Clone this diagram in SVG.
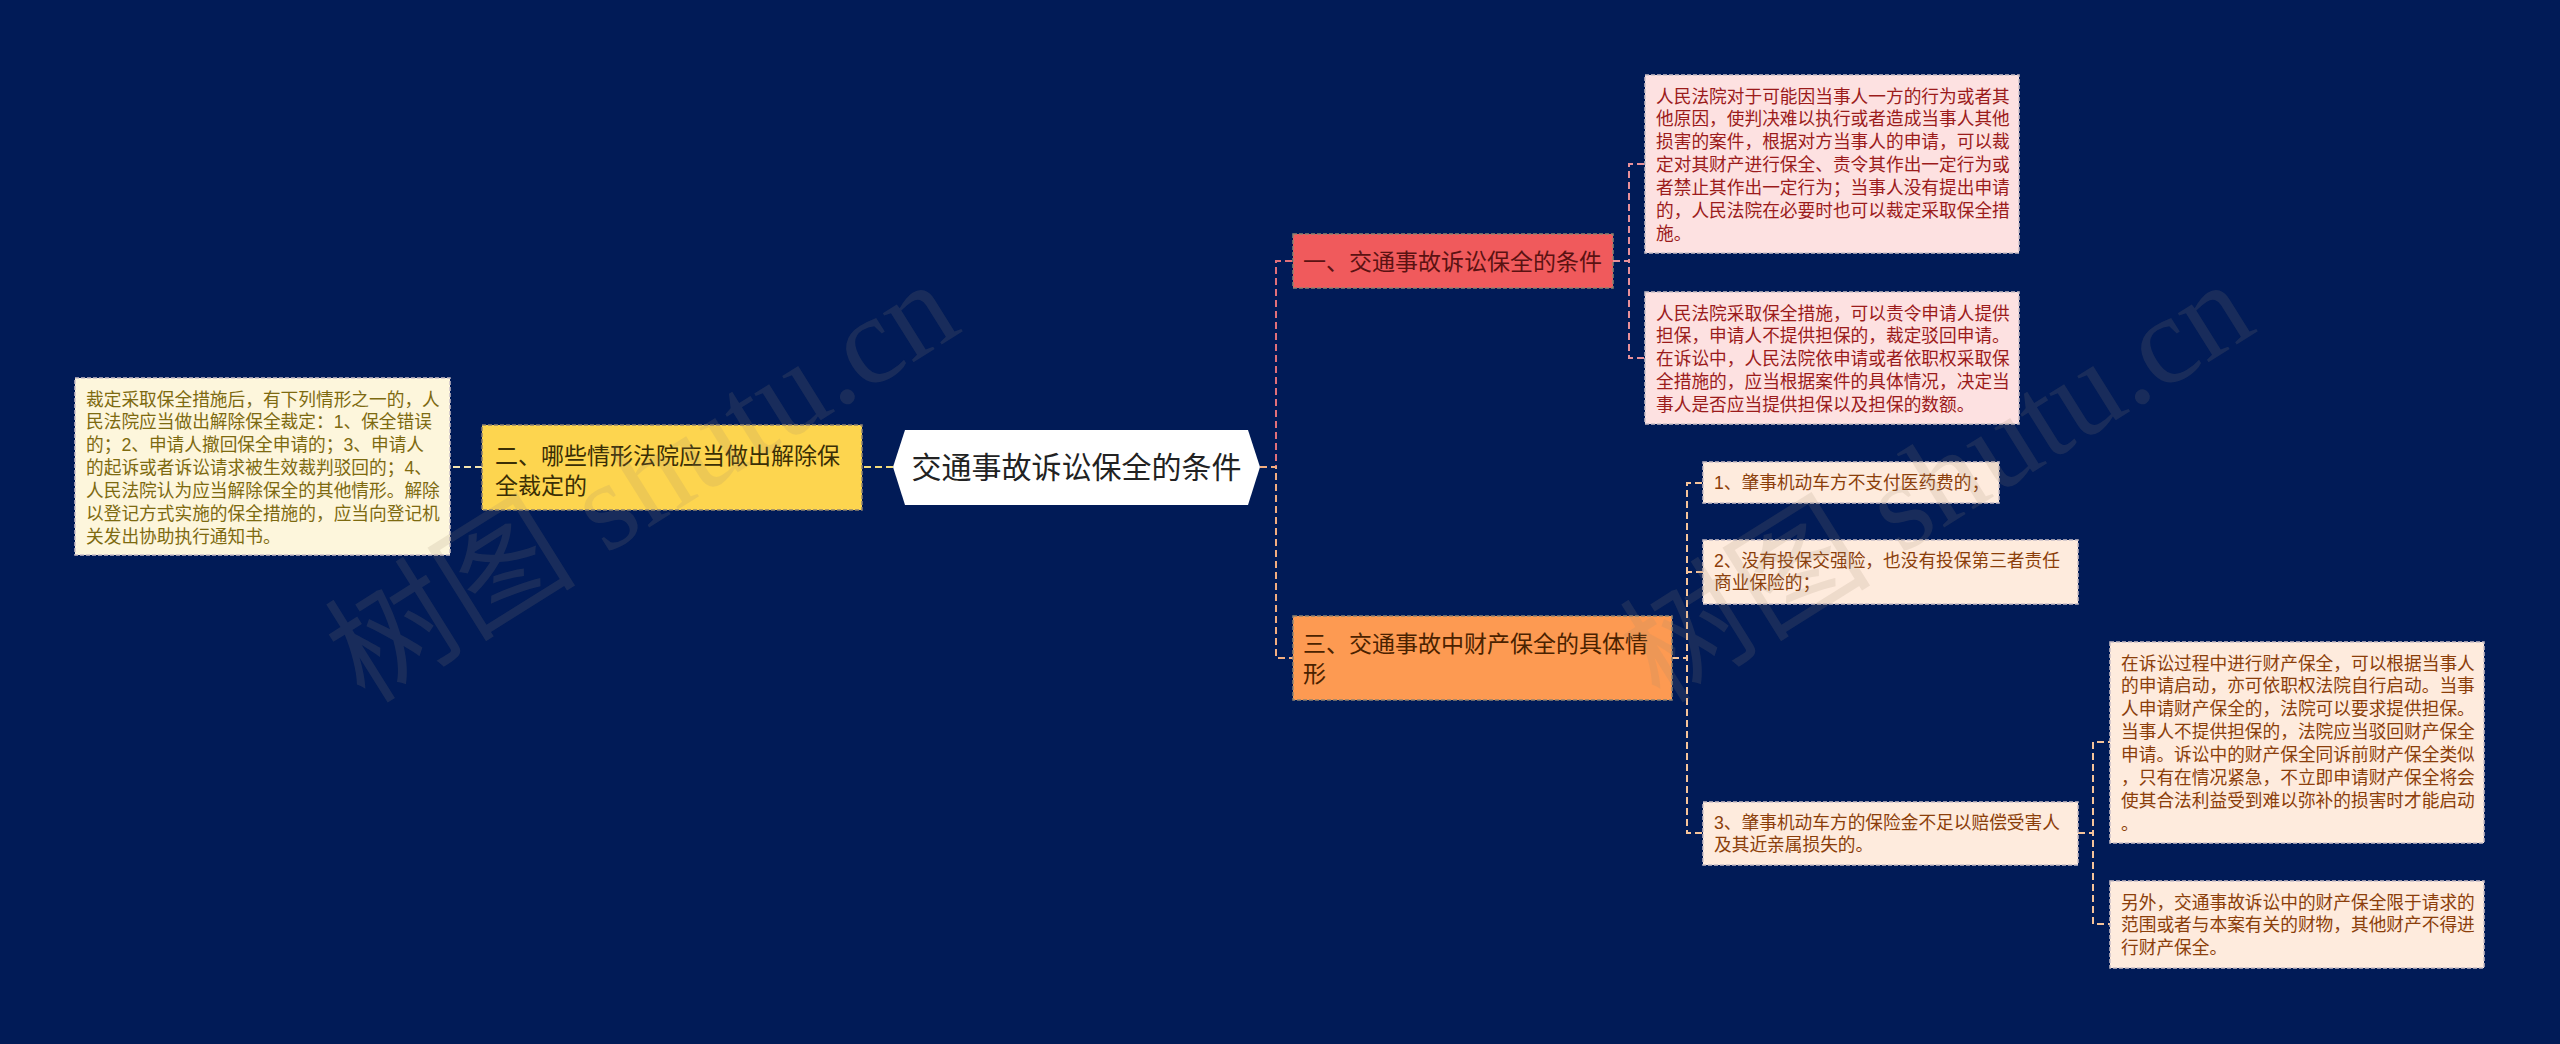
<svg xmlns="http://www.w3.org/2000/svg" width="2560" height="1044" viewBox="0 0 2560 1044">
<defs>
<style>
.t{font-family:"Liberation Sans","Noto Sans CJK SC",sans-serif}
.leaf{font-size:17.7px}
.main{font-size:23px}
.box{stroke:#c9bfc6;stroke-width:1.5;stroke-dasharray:4 2}
.mbox{stroke:#8f8270;stroke-width:1.5;stroke-dasharray:4 2}
.c{fill:none;stroke-width:2;stroke-dasharray:7 4}
.wm{font-family:"Liberation Serif","Noto Sans CJK SC",serif;font-size:126px;fill:#9a8a70;fill-opacity:0.16}
</style>
</defs>
<rect x="0" y="0" width="2560" height="1044" fill="#011b57"/>

<g id="connectors">
<path class="c" d="M1260,467 H1276 V261 H1293" stroke="#e0707a"/>
<path class="c" d="M1260,467 H1276 V658 H1293" stroke="#f2ad80"/>
<path class="c" d="M893,467 H862" stroke="#f3dc7a"/>
<path class="c" d="M482,467 H451" stroke="#f5e6b0"/>
<path class="c" d="M1613,261 H1629 V164 H1645" stroke="#e8909a"/>
<path class="c" d="M1613,261 H1629 V358 H1645" stroke="#e8909a"/>
<path class="c" d="M1672,658 H1687 V483 H1703" stroke="#f5c39a"/>
<path class="c" d="M1672,658 H1687 V572 H1703" stroke="#f5c39a"/>
<path class="c" d="M1672,658 H1687 V833 H1703" stroke="#f5c39a"/>
<path class="c" d="M2078,833 H2093 V742 H2110" stroke="#f5c39a"/>
<path class="c" d="M2078,833 H2093 V924 H2110" stroke="#f5c39a"/>
</g>

<g id="root">
<polygon points="893,467 905,430 1248,430 1260,467 1248,505 905,505" fill="#ffffff"/>
<text class="t" x="1076.5" y="478" font-size="30" text-anchor="middle" fill="#222222">交通事故诉讼保全的条件</text>
</g>

<g id="node-2">
<rect class="mbox" x="482" y="425" width="380" height="85" fill="#fdd54f"/>
<text class="t main" fill="#3a2e05"><tspan x="495" y="463.5">二、哪些情形法院应当做出解除保</tspan><tspan x="495" y="493.5">全裁定的</tspan></text>
</g>

<g id="leaf-2">
<rect class="box" x="75" y="378" width="375" height="177" fill="#fdf6dc"/>
<text class="t leaf" fill="#7d6a10"><tspan x="86" y="405.5">裁定采取保全措施后，有下列情形之一的，人</tspan><tspan x="86" y="428.4">民法院应当做出解除保全裁定：1、保全错误</tspan><tspan x="86" y="451.3">的；2、申请人撤回保全申请的；3、申请人</tspan><tspan x="86" y="474.2">的起诉或者诉讼请求被生效裁判驳回的；4、</tspan><tspan x="86" y="497.1">人民法院认为应当解除保全的其他情形。解除</tspan><tspan x="86" y="520">以登记方式实施的保全措施的，应当向登记机</tspan><tspan x="86" y="542.9">关发出协助执行通知书。</tspan></text>
</g>

<g id="node-1">
<rect class="mbox" x="1293" y="234" width="320" height="54" fill="#f05a5c"/>
<text class="t main" fill="#5a1212" x="1303" y="269.5">一、交通事故诉讼保全的条件</text>
</g>

<g id="leaf-1a">
<rect class="box" x="1645" y="75" width="374" height="178" fill="#fde1e1"/>
<text class="t leaf" fill="#9b1b1b"><tspan x="1656" y="102.5">人民法院对于可能因当事人一方的行为或者其</tspan><tspan x="1656" y="125.4">他原因，使判决难以执行或者造成当事人其他</tspan><tspan x="1656" y="148.3">损害的案件，根据对方当事人的申请，可以裁</tspan><tspan x="1656" y="171.2">定对其财产进行保全、责令其作出一定行为或</tspan><tspan x="1656" y="194.1">者禁止其作出一定行为；当事人没有提出申请</tspan><tspan x="1656" y="217">的，人民法院在必要时也可以裁定采取保全措</tspan><tspan x="1656" y="239.9">施。</tspan></text>
</g>

<g id="leaf-1b">
<rect class="box" x="1645" y="292" width="374" height="132" fill="#fde1e1"/>
<text class="t leaf" fill="#9b1b1b"><tspan x="1656" y="319.5">人民法院采取保全措施，可以责令申请人提供</tspan><tspan x="1656" y="342.4">担保，申请人不提供担保的，裁定驳回申请。</tspan><tspan x="1656" y="365.3">在诉讼中，人民法院依申请或者依职权采取保</tspan><tspan x="1656" y="388.2">全措施的，应当根据案件的具体情况，决定当</tspan><tspan x="1656" y="411.1">事人是否应当提供担保以及担保的数额。</tspan></text>
</g>

<g id="node-3">
<rect class="mbox" x="1293" y="616" width="379" height="84" fill="#fd9a52"/>
<text class="t main" fill="#4a2200"><tspan x="1303" y="651.5">三、交通事故中财产保全的具体情</tspan><tspan x="1303" y="681.5">形</tspan></text>
</g>

<g id="leaf-3a">
<rect class="box" x="1703" y="462" width="296" height="41" fill="#feebdd"/>
<text class="t leaf" fill="#8b3e0a" x="1714" y="489">1、肇事机动车方不支付医药费的；</text>
</g>

<g id="leaf-3b">
<rect class="box" x="1703" y="540" width="375" height="64" fill="#feebdd"/>
<text class="t leaf" fill="#8b3e0a"><tspan x="1714" y="566.5">2、没有投保交强险，也没有投保第三者责任</tspan><tspan x="1714" y="589.4">商业保险的；</tspan></text>
</g>

<g id="leaf-3c">
<rect class="box" x="1703" y="802" width="375" height="63" fill="#feebdd"/>
<text class="t leaf" fill="#8b3e0a"><tspan x="1714" y="828.5">3、肇事机动车方的保险金不足以赔偿受害人</tspan><tspan x="1714" y="851.4">及其近亲属损失的。</tspan></text>
</g>

<g id="leaf-3c-1">
<rect class="box" x="2110" y="642" width="374" height="201" fill="#feebdd"/>
<text class="t leaf" fill="#8b3e0a"><tspan x="2121" y="669.5">在诉讼过程中进行财产保全，可以根据当事人</tspan><tspan x="2121" y="692.4">的申请启动，亦可依职权法院自行启动。当事</tspan><tspan x="2121" y="715.3">人申请财产保全的，法院可以要求提供担保。</tspan><tspan x="2121" y="738.2">当事人不提供担保的，法院应当驳回财产保全</tspan><tspan x="2121" y="761.1">申请。诉讼中的财产保全同诉前财产保全类似</tspan><tspan x="2121" y="784">，只有在情况紧急，不立即申请财产保全将会</tspan><tspan x="2121" y="806.9">使其合法利益受到难以弥补的损害时才能启动</tspan><tspan x="2121" y="829.8">。</tspan></text>
</g>

<g id="leaf-3c-2">
<rect class="box" x="2110" y="881" width="374" height="87" fill="#feebdd"/>
<text class="t leaf" fill="#8b3e0a"><tspan x="2121" y="908.5">另外，交通事故诉讼中的财产保全限于请求的</tspan><tspan x="2121" y="931.4">范围或者与本案有关的财物，其他财产不得进</tspan><tspan x="2121" y="954.3">行财产保全。</tspan></text>
</g>

<g id="watermarks">
<text class="wm" transform="translate(365,705) rotate(-32)">树图 shutu.cn</text>
<text class="wm" transform="translate(1660,705) rotate(-32)">树图 shutu.cn</text>
</g>
</svg>
